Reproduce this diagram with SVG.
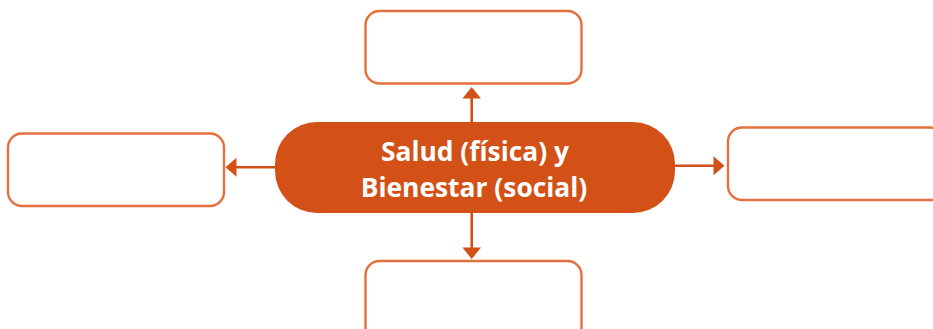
<svg xmlns="http://www.w3.org/2000/svg" width="933" height="329" viewBox="0 0 933 329">
<style>
.box{fill:#fff;stroke:#E4703F;stroke-width:2.4}
.link{stroke:#D35016;stroke-width:2.6;fill:none}
.center{fill:#D35016}
.label{font-family:"Open Sans","Lato",sans-serif;font-weight:bold;font-size:26.4px;fill:#fff;text-anchor:middle}
</style>
<g id="connectors">
<path class="link" d="M471.7,122 V98"/>
<path d="M471.7,87 L481,98.5 L462.4,98.5 z" fill="#D35016"/>
<path class="link" d="M471.7,213 V248"/>
<path d="M471.7,259 L481,247.5 L462.4,247.5 z" fill="#D35016"/>
<path class="link" d="M275,167.3 H236"/>
<path d="M225.5,167.3 L236.5,157.8 L236.5,176.8 z" fill="#D35016"/>
<path class="link" d="M675,165.7 H714"/>
<path d="M724.5,165.7 L713.5,156.2 L713.5,175.2 z" fill="#D35016"/>
</g>
<g id="node-top"><rect class="box" x="365.5" y="11" width="216" height="72.5" rx="14"/></g>
<g id="node-bottom"><rect class="box" x="365.5" y="261" width="216" height="80" rx="14"/></g>
<g id="node-left"><rect class="box" x="8" y="133.5" width="216" height="72.5" rx="14"/></g>
<g id="node-right"><rect class="box" x="728" y="127.5" width="216" height="72.5" rx="14"/></g>
<g id="node-center">
<rect class="center" x="275" y="122" width="400" height="91" rx="42"/>
<text class="label" x="475" y="161">Salud (física) y</text>
<text class="label" x="474" y="196.5">Bienestar (social)</text>
</g>
</svg>
